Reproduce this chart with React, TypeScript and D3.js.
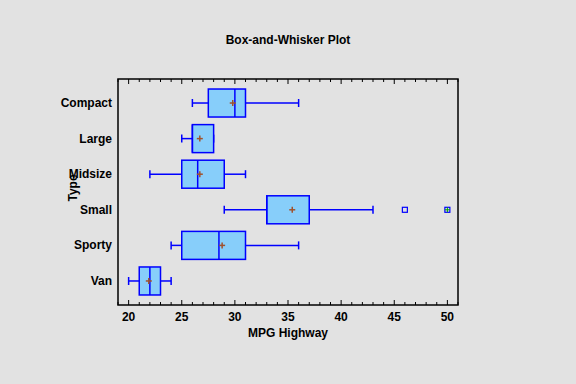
import React, { useEffect, useRef } from "react";
import * as d3 from "d3";

const width = 576;
const height = 384;
const frame = { left: 118, right: 458, top: 79, bottom: 305 };

// summary values
const types = ["Compact", "Large", "Midsize", "Small", "Sporty", "Van"];
const lowWhisker = [26, 25, 22, 29, 24, 20];
const q1 = [27.5, 26, 25, 33, 25, 21];
const median = [30, 26, 26.5, 33, 28.5, 22];
const q3 = [31, 28, 29, 37, 31, 23];
const highWhisker = [36, 28, 31, 43, 36, 24];
const means = [29.8, 26.7, 26.7, 35.4, 28.8, 21.9];
const outliers = [{ type: "Small", value: 46, far: false }, { type: "Small", value: 50, far: true }];
const xTicks = [20, 25, 30, 35, 40, 45, 50];

const font = "Arial, 'Liberation Sans', sans-serif";

export default function App() {
  const ref = useRef<SVGSVGElement>(null);

  useEffect(() => {
    const svg = d3.select(ref.current);
    svg.selectAll("*").remove();

    const x = d3.scaleLinear().domain([19, 51]).range([frame.left, frame.right]);
    const y = d3
      .scalePoint<string>()
      .domain(types)
      .range([frame.top, frame.bottom])
      .padding(0.675);
    const boxH = 28;

    svg.append("rect").attr("width", width).attr("height", height).attr("fill", "#e2e2e2");

    svg
      .append("text")
      .attr("x", 288)
      .attr("y", 44)
      .attr("text-anchor", "middle")
      .attr("font-family", font)
      .attr("font-weight", "bold")
      .attr("font-size", 12)
      .text("Box-and-Whisker Plot");

    // minor + major ticks, top and bottom, pointing inward
    const minor = d3.range(19, 52, 1);
    const g = svg.append("g");
    minor.forEach(v => {
      const len = v % 5 === 0 ? 5 : 3;
      g.append("line")
        .attr("x1", x(v)).attr("x2", x(v))
        .attr("y1", frame.bottom).attr("y2", frame.bottom - len)
        .attr("stroke", "black");
      g.append("line")
        .attr("x1", x(v)).attr("x2", x(v))
        .attr("y1", frame.top).attr("y2", frame.top + len)
        .attr("stroke", "black");
    });

    svg
      .append("rect")
      .attr("x", frame.left)
      .attr("y", frame.top)
      .attr("width", frame.right - frame.left)
      .attr("height", frame.bottom - frame.top)
      .attr("fill", "none")
      .attr("stroke", "black")
      .attr("stroke-width", 1.5);

    svg
      .append("g")
      .selectAll("text")
      .data(xTicks)
      .join("text")
      .attr("x", d => x(d))
      .attr("y", 321)
      .attr("text-anchor", "middle")
      .attr("font-family", font)
      .attr("font-weight", "bold")
      .attr("font-size", 12)
      .text(d => d);

    svg
      .append("text")
      .attr("x", 288)
      .attr("y", 337)
      .attr("text-anchor", "middle")
      .attr("font-family", font)
      .attr("font-weight", "bold")
      .attr("font-size", 12)
      .text("MPG Highway");

    svg
      .append("g")
      .selectAll("text")
      .data(types)
      .join("text")
      .attr("x", 112)
      .attr("y", d => (y(d) as number) + 4)
      .attr("text-anchor", "end")
      .attr("font-family", font)
      .attr("font-weight", "bold")
      .attr("font-size", 12)
      .text(d => d);

    svg
      .append("text")
      .attr("transform", "translate(77,188) rotate(-90)")
      .attr("text-anchor", "middle")
      .attr("font-family", font)
      .attr("font-weight", "bold")
      .attr("font-size", 12)
      .text("Type");

    const blue = "#0000ff";
    types.forEach((t, i) => {
      const cy = y(t) as number;
      const bg = svg.append("g").attr("stroke", blue).attr("stroke-width", 1.5);
      bg.append("line").attr("x1", x(lowWhisker[i])).attr("x2", x(q1[i])).attr("y1", cy).attr("y2", cy);
      bg.append("line").attr("x1", x(q3[i])).attr("x2", x(highWhisker[i])).attr("y1", cy).attr("y2", cy);
      bg.append("line").attr("x1", x(lowWhisker[i])).attr("x2", x(lowWhisker[i])).attr("y1", cy - 4).attr("y2", cy + 4);
      bg.append("line").attr("x1", x(highWhisker[i])).attr("x2", x(highWhisker[i])).attr("y1", cy - 4).attr("y2", cy + 4);
      bg.append("rect")
        .attr("x", x(q1[i]))
        .attr("y", cy - boxH / 2)
        .attr("width", x(q3[i]) - x(q1[i]))
        .attr("height", boxH)
        .attr("fill", "#87cefa");
      bg.append("line").attr("x1", x(median[i])).attr("x2", x(median[i])).attr("y1", cy - boxH / 2).attr("y2", cy + boxH / 2);
      const mx = x(means[i]);
      const mg = svg.append("g").attr("stroke", "#a0522d").attr("stroke-width", 1.5);
      mg.append("line").attr("x1", mx - 3).attr("x2", mx + 3).attr("y1", cy).attr("y2", cy);
      mg.append("line").attr("x1", mx).attr("x2", mx).attr("y1", cy - 3).attr("y2", cy + 3);
    });

    outliers.forEach(o => {
      const cx = x(o.value);
      const cy = y(o.type) as number;
      svg.append("rect")
        .attr("x", cx - 2.5).attr("y", cy - 2.5).attr("width", 5).attr("height", 5)
        .attr("fill", "none").attr("stroke", blue).attr("stroke-width", 1.2);
      if (o.far) {
        svg.append("line").attr("x1", cx - 2.5).attr("x2", cx + 2.5).attr("y1", cy).attr("y2", cy).attr("stroke", "#00a000");
        svg.append("line").attr("x1", cx).attr("x2", cx).attr("y1", cy - 2.5).attr("y2", cy + 2.5).attr("stroke", "#00a000");
      }
    });
  }, []);

  return (
    <svg
      ref={ref}
      width={width}
      height={height}
      style={{ position: "absolute", left: 0, top: 0, display: "block" }}
    />
  );
}
